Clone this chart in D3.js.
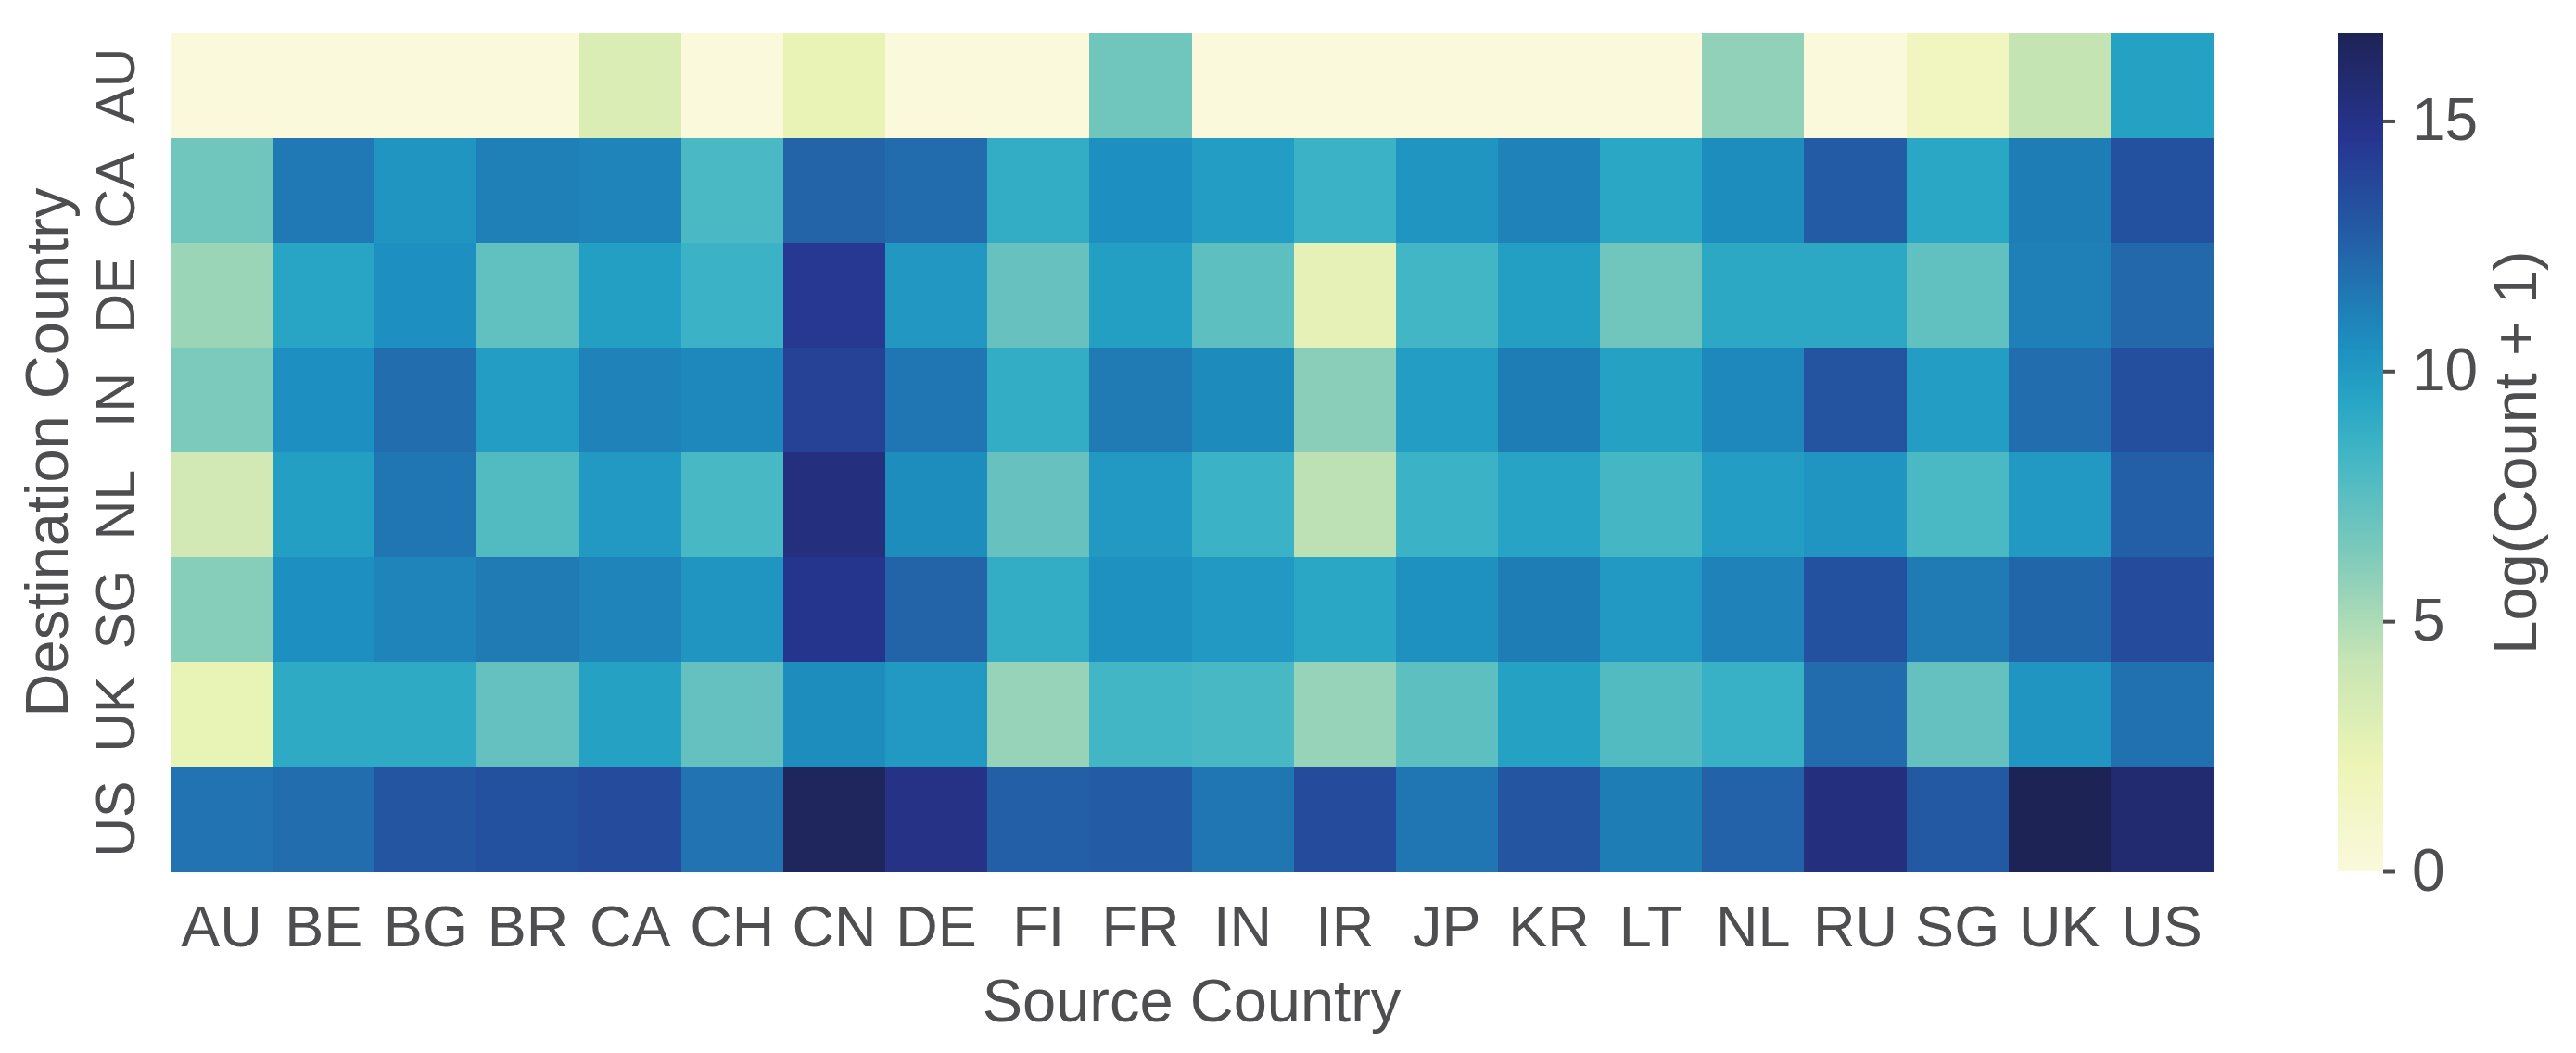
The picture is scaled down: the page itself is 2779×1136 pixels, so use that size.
<!DOCTYPE html>
<html>
<head>
<meta charset="utf-8">
<script src="https://cdn.jsdelivr.net/npm/d3@7"></script>
<style>
  html, body { margin: 0; padding: 0; background: #ffffff; }
  svg { display: block; }
  text { font-family: "Liberation Sans", Arial, Helvetica, sans-serif; fill: #4e4e50; }
</style>
</head>
<body>
<svg id="chart" width="2779" height="1136"></svg>
<script>
// ---------- data ----------
const sourceCountries = ["AU","BE","BG","BR","CA","CH","CN","DE","FI","FR","IN","IR","JP","KR","LT","NL","RU","SG","UK","US"];
const destinationCountries = ["AU","CA","DE","IN","NL","SG","UK","US"];

// Log(Count + 1), one array per destination row, ordered like sourceCountries
const toAU = [0,0,0,0,3.2,0,2.3,0,0,6.8,0,0,0,0,0,5.8,0,1.5,4.3,9.6];
const toCA = [6.8,11.5,10.2,11.2,11.0,8.0,12.4,12.1,8.9,10.5,9.8,8.6,10.2,11.1,9.3,10.6,12.8,9.3,11.3,13.3];
const toDE = [5.5,9.4,10.5,7.3,9.7,8.6,14.5,10.1,7.1,9.7,7.4,2.6,8.3,9.7,6.8,9.2,9.2,7.3,11.2,12.2];
const toIN = [6.4,10.5,12.0,9.8,11.1,10.8,14.0,11.6,8.9,11.4,10.7,6.0,9.8,11.3,9.6,10.8,13.2,9.8,12.0,13.4];
const toNL = [3.6,9.7,11.6,7.8,10.0,8.1,15.3,10.6,7.1,10.0,8.6,4.5,8.6,9.5,8.2,9.8,10.2,8.0,10.0,12.6];
const toSG = [6.1,10.5,11.0,11.4,11.0,10.2,14.8,12.4,8.9,10.4,10.0,9.3,10.4,11.3,10.0,11.1,13.3,11.4,12.3,13.6];
const toUK = [2.4,9.1,9.1,7.2,9.6,7.2,10.6,10.0,5.6,8.3,8.1,5.6,7.4,9.6,7.8,8.7,12.1,7.2,10.2,11.8];
const toUS = [11.7,12.0,13.1,13.3,13.6,11.7,16.5,15.0,12.6,12.8,11.6,13.6,11.6,13.1,11.3,12.5,15.3,12.9,16.75,15.8];
const rowValues = [toAU, toCA, toDE, toIN, toNL, toSG, toUK, toUS];

const colorbarTicks = [0, 5, 10, 15];
const xAxisTitle = "Source Country";
const yAxisTitle = "Destination Country";
const colorbarTitle = "Log(Count + 1)";

// YlGnBu-like palette as it appears in the picture (position 0..1, colour)
const palettePositions = [0, 0.125, 0.25, 0.375, 0.5, 0.5625, 0.625, 0.75, 0.875, 1];
const paletteColors = ["#faf9dc","#eef5b6","#c8e5b4","#80cbbb","#40b5c5","#27a5c5","#1d90c0","#2360a7","#263590","#1e2356"];

// ---------- layout ----------
const plot = { left: 184, right: 2387, top: 36, bottom: 940 };
const cbar = { left: 2522, right: 2571 };

const svg = d3.select("#chart");
svg.append("rect").attr("width", 2779).attr("height", 1136).attr("fill", "#ffffff");

const cells = [];
destinationCountries.forEach((dst, i) => {
  sourceCountries.forEach((src, j) => {
    cells.push({ src, dst, value: rowValues[i][j] });
  });
});

const vmin = 0;
const vmax = d3.max(cells, d => d.value);

const x = d3.scaleBand().domain(sourceCountries).range([plot.left, plot.right]).padding(0);
const y = d3.scaleBand().domain(destinationCountries).range([plot.top, plot.bottom]).padding(0);

const stopsDomain = palettePositions.map(p => vmin + (vmax - vmin) * p);
const color = d3.scaleLinear().domain(stopsDomain).range(paletteColors).interpolate(d3.interpolateRgb).clamp(true);

// ---------- heatmap ----------
svg.append("g")
  .selectAll("rect")
  .data(cells)
  .join("rect")
  .attr("x", d => x(d.src))
  .attr("y", d => y(d.dst))
  .attr("width", x.bandwidth() + 0.5)
  .attr("height", y.bandwidth() + 0.5)
  .attr("fill", d => color(d.value))
  .attr("shape-rendering", "crispEdges");

// x axis
const xAxis = svg.append("g")
  .attr("transform", `translate(0,${plot.bottom})`)
  .call(d3.axisBottom(x).tickSize(0).tickPadding(36));
xAxis.select(".domain").remove();
xAxis.selectAll("text")
  .attr("font-size", 63)
  .attr("fill", "#4e4e50")
  .style("font-family", '"Liberation Sans", Arial, sans-serif');

// y axis (rotated labels)
const yAxis = svg.append("g")
  .attr("transform", `translate(${plot.left},0)`)
  .call(d3.axisLeft(y).tickSize(0).tickPadding(39));
yAxis.select(".domain").remove();
yAxis.selectAll(".tick text")
  .attr("x", null).attr("dy", null)
  .attr("text-anchor", "middle")
  .attr("transform", "translate(-39,0) rotate(-90)")
  .attr("y", 0)
  .attr("font-size", 59)
  .attr("fill", "#4e4e50")
  .style("font-family", '"Liberation Sans", Arial, sans-serif');

// axis titles
svg.append("text")
  .attr("x", (plot.left + plot.right) / 2)
  .attr("y", 1102)
  .attr("text-anchor", "middle")
  .attr("font-size", 65)
  .text(xAxisTitle);

svg.append("text")
  .attr("transform", `translate(73,${(plot.top + plot.bottom) / 2}) rotate(-90)`)
  .attr("text-anchor", "middle")
  .attr("font-size", 65)
  .text(yAxisTitle);

// ---------- colorbar ----------
const cScale = d3.scaleLinear().domain([vmin, vmax]).range([plot.bottom, plot.top]);

const defs = svg.append("defs");
const grad = defs.append("linearGradient")
  .attr("id", "cbarGrad")
  .attr("x1", "0").attr("y1", "1").attr("x2", "0").attr("y2", "0");
grad.selectAll("stop")
  .data(d3.range(0, 1.0001, 0.01))
  .join("stop")
  .attr("offset", t => t)
  .attr("stop-color", t => color(vmin + t * (vmax - vmin)));

svg.append("rect")
  .attr("x", cbar.left)
  .attr("y", cScale(vmax))
  .attr("width", cbar.right - cbar.left)
  .attr("height", cScale(vmin) - cScale(vmax))
  .attr("fill", "url(#cbarGrad)");

const cAxis = svg.append("g")
  .attr("transform", `translate(${cbar.right},0)`)
  .call(d3.axisRight(cScale).tickValues(colorbarTicks).tickSize(13).tickPadding(18).tickFormat(d3.format("d")));
cAxis.select(".domain").remove();
cAxis.selectAll(".tick line").attr("stroke", "#4e4e50").attr("stroke-width", 4);
cAxis.selectAll(".tick text")
  .attr("font-size", 64)
  .attr("fill", "#4e4e50")
  .style("font-family", '"Liberation Sans", Arial, sans-serif');

svg.append("text")
  .attr("transform", `translate(2736,${(plot.top + plot.bottom) / 2}) rotate(-90)`)
  .attr("text-anchor", "middle")
  .attr("font-size", 65)
  .text(colorbarTitle);
</script>
</body>
</html>
